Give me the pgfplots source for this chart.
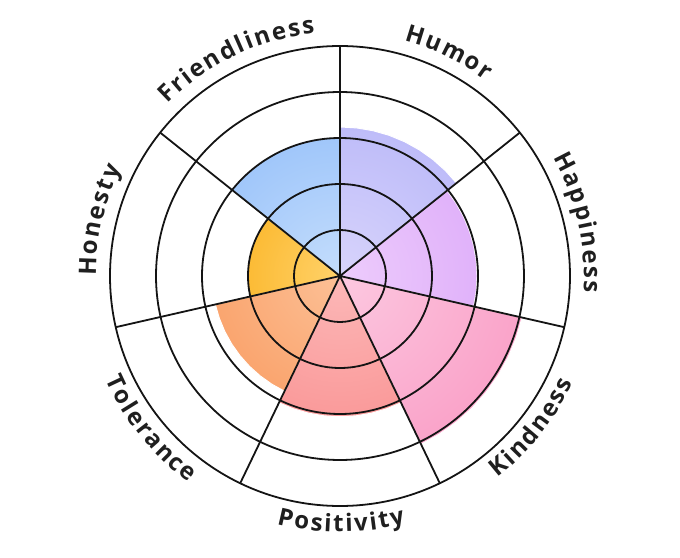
\documentclass[border=0pt]{standalone}
\usepackage{pgfplots}
\pgfplotsset{compat=1.18}
\usepgfplotslibrary{polar}
\usetikzlibrary{decorations.text}
\usepackage{fontspec}
\setmainfont{Open Sans}
\newcommand\lbl{\fontsize{24}{28}\selectfont\bfseries\kern2pt}
\definecolor{humI}{HTML}{D8D4FB}\definecolor{humO}{HTML}{A4A4F7}
\definecolor{hapI}{HTML}{EDCCFC}\definecolor{hapO}{HTML}{D498F7}
\definecolor{kinI}{HTML}{FCC8E0}\definecolor{kinO}{HTML}{F87EB2}
\definecolor{posI}{HTML}{FCB8B8}\definecolor{posO}{HTML}{F87C7C}
\definecolor{tolI}{HTML}{FCC096}\definecolor{tolO}{HTML}{F88A48}
\definecolor{honI}{HTML}{FFD26A}\definecolor{honO}{HTML}{F8A400}
\definecolor{friI}{HTML}{C4DDFC}\definecolor{friO}{HTML}{7CB0F8}
\tikzset{sec/.style n args={3}{fill=white, draw=white, line width=1pt,
  path picture={\shade[path picture={}, draw=none, fill=none, inner color=#1, outer color=#2] (axis cs:0,0) circle[radius=#3];}}}
\begin{document}
\begin{tikzpicture}
\useasboundingbox (0,0) rectangle (680pt,557pt);
\coordinate (C) at (340pt,281pt);
\begin{polaraxis}[
  at={(C)}, anchor=origin,
  scale only axis, width=460pt, height=460pt,
  xmin=0, xmax=360, ymin=0, ymax=5,
  xtick={90,38.571,347.143,295.714,244.286,192.857,141.429},
  ytick={1,2,3,4},
  xticklabels={}, yticklabels={},
  tick style={draw=none},
  major tick length=0pt,
  grid=major,
  major grid style={black!92, line width=1.8pt},
  x axis line style={black!92, line width=1.8pt},
  y axis line style={draw=none},
  axis on top,
]
% Humor
\addplot[sec={humI}{humO}{298pt}] coordinates {(0,0) (38.571,3.24) (45,3.24) (51.429,3.24) (57.857,3.24) (64.286,3.24) (70.714,3.24) (77.143,3.24) (83.571,3.24) (90,3.24) (0,0)};
% Happiness
\addplot[sec={hapI}{hapO}{274pt}] coordinates {(0,0) (347.143,2.98) (353.571,2.98) (360,2.98) (6.429,2.98) (12.857,2.98) (19.286,2.98) (25.714,2.98) (32.143,2.98) (38.571,2.98) (0,0)};
% Kindness
\addplot[sec={kinI}{kinO}{374pt}] coordinates {(0,0) (295.714,4.06) (302.143,4.06) (308.571,4.06) (315,4.06) (321.429,4.06) (327.857,4.06) (334.286,4.06) (340.714,4.06) (347.143,4.06) (0,0)};
% Positivity
\addplot[sec={posI}{posO}{282pt}] coordinates {(0,0) (244.286,3.06) (250.714,3.06) (257.143,3.06) (263.571,3.06) (270,3.06) (276.429,3.06) (282.857,3.06) (289.286,3.06) (295.714,3.06) (0,0)};
% Tolerance
\addplot[sec={tolI}{tolO}{256pt}] coordinates {(0,0) (192.857,2.78) (199.286,2.78) (205.714,2.78) (212.143,2.78) (218.571,2.78) (225,2.78) (231.429,2.78) (237.857,2.78) (244.286,2.78) (0,0)};
% Honesty
\addplot[sec={honI}{honO}{186pt}] coordinates {(0,0) (141.429,2.02) (147.857,2.02) (154.286,2.02) (160.714,2.02) (167.143,2.02) (173.571,2.02) (180,2.02) (186.429,2.02) (192.857,2.02) (0,0)};
% Friendliness
\addplot[sec={friI}{friO}{278pt}] coordinates {(0,0) (90,3.02) (96.429,3.02) (102.857,3.02) (109.286,3.02) (115.714,3.02) (122.143,3.02) (128.571,3.02) (135,3.02) (141.429,3.02) (0,0)};
\end{polaraxis}
\tikzset{lab/.style={decorate, decoration={text along path, text align=center, text color=black!88, text={|\lbl|#1}}}}
\path[lab=Humor] ([shift={(90:244pt)}]C) arc[start angle=90, end angle=38.571, radius=244pt];
\path[lab=Happiness] ([shift={(38.571:244pt)}]C) arc[start angle=38.571, end angle=-12.857, radius=244pt];
\path[lab=Honesty] ([shift={(192.857:244pt)}]C) arc[start angle=192.857, end angle=141.429, radius=244pt];
\path[lab=Friendliness] ([shift={(141.429:244pt)}]C) arc[start angle=141.429, end angle=90, radius=244pt];
\path[lab=Kindness] ([shift={(-64.286:256pt)}]C) arc[start angle=-64.286, end angle=-12.857, radius=256pt];
\path[lab=Positivity] ([shift={(-115.714:256pt)}]C) arc[start angle=-115.714, end angle=-64.286, radius=256pt];
\path[lab=Tolerance] ([shift={(-167.143:256pt)}]C) arc[start angle=-167.143, end angle=-115.714, radius=256pt];
\end{tikzpicture}
\end{document}
